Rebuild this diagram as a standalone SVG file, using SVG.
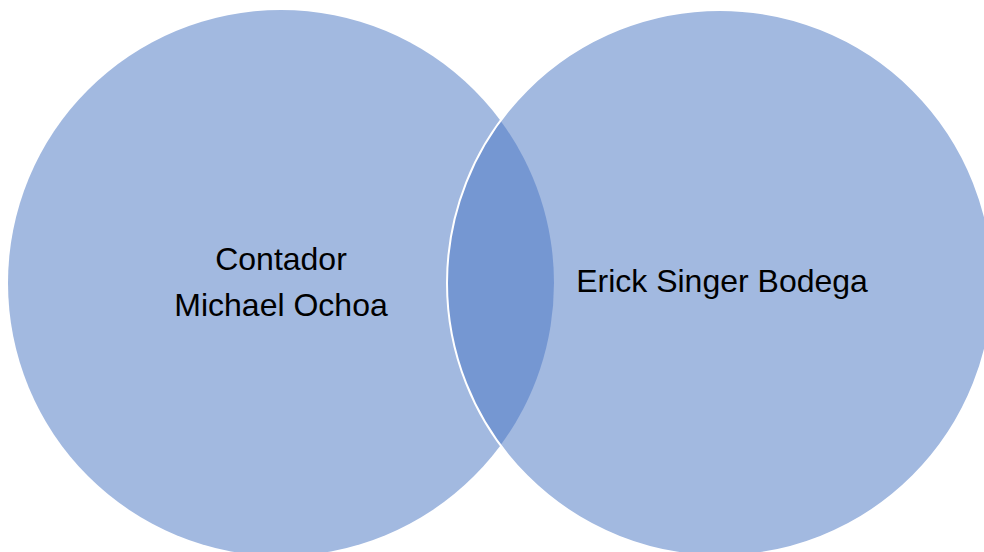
<svg xmlns="http://www.w3.org/2000/svg" width="984" height="552" viewBox="0 0 984 552">
<style>
.c{fill:#A2B9E0}
.lens{fill:#7597D2}
.t{font-family:"Liberation Sans",Arial,sans-serif;font-size:32px;fill:#000;text-anchor:middle}
</style>
<rect width="984" height="552" fill="#fff"/>
<g id="left">
<circle class="c" cx="281" cy="283" r="273"/>
</g>
<g id="right">
<circle class="c" cx="720" cy="283" r="273"/>
</g>
<g id="overlap">
<path class="lens" d="M500.5 120.7 A273 273 0 0 0 500.5 445.3 A273 273 0 0 0 500.5 120.7 Z"/>
<circle cx="720" cy="283" r="273" fill="none" stroke="#fff" stroke-width="2"/>
</g>
<g id="labels">
<text class="t" x="281" y="270">Contador</text>
<text class="t" x="281" y="316">Michael Ochoa</text>
<text class="t" x="722" y="292">Erick Singer Bodega</text>
</g>
</svg>
